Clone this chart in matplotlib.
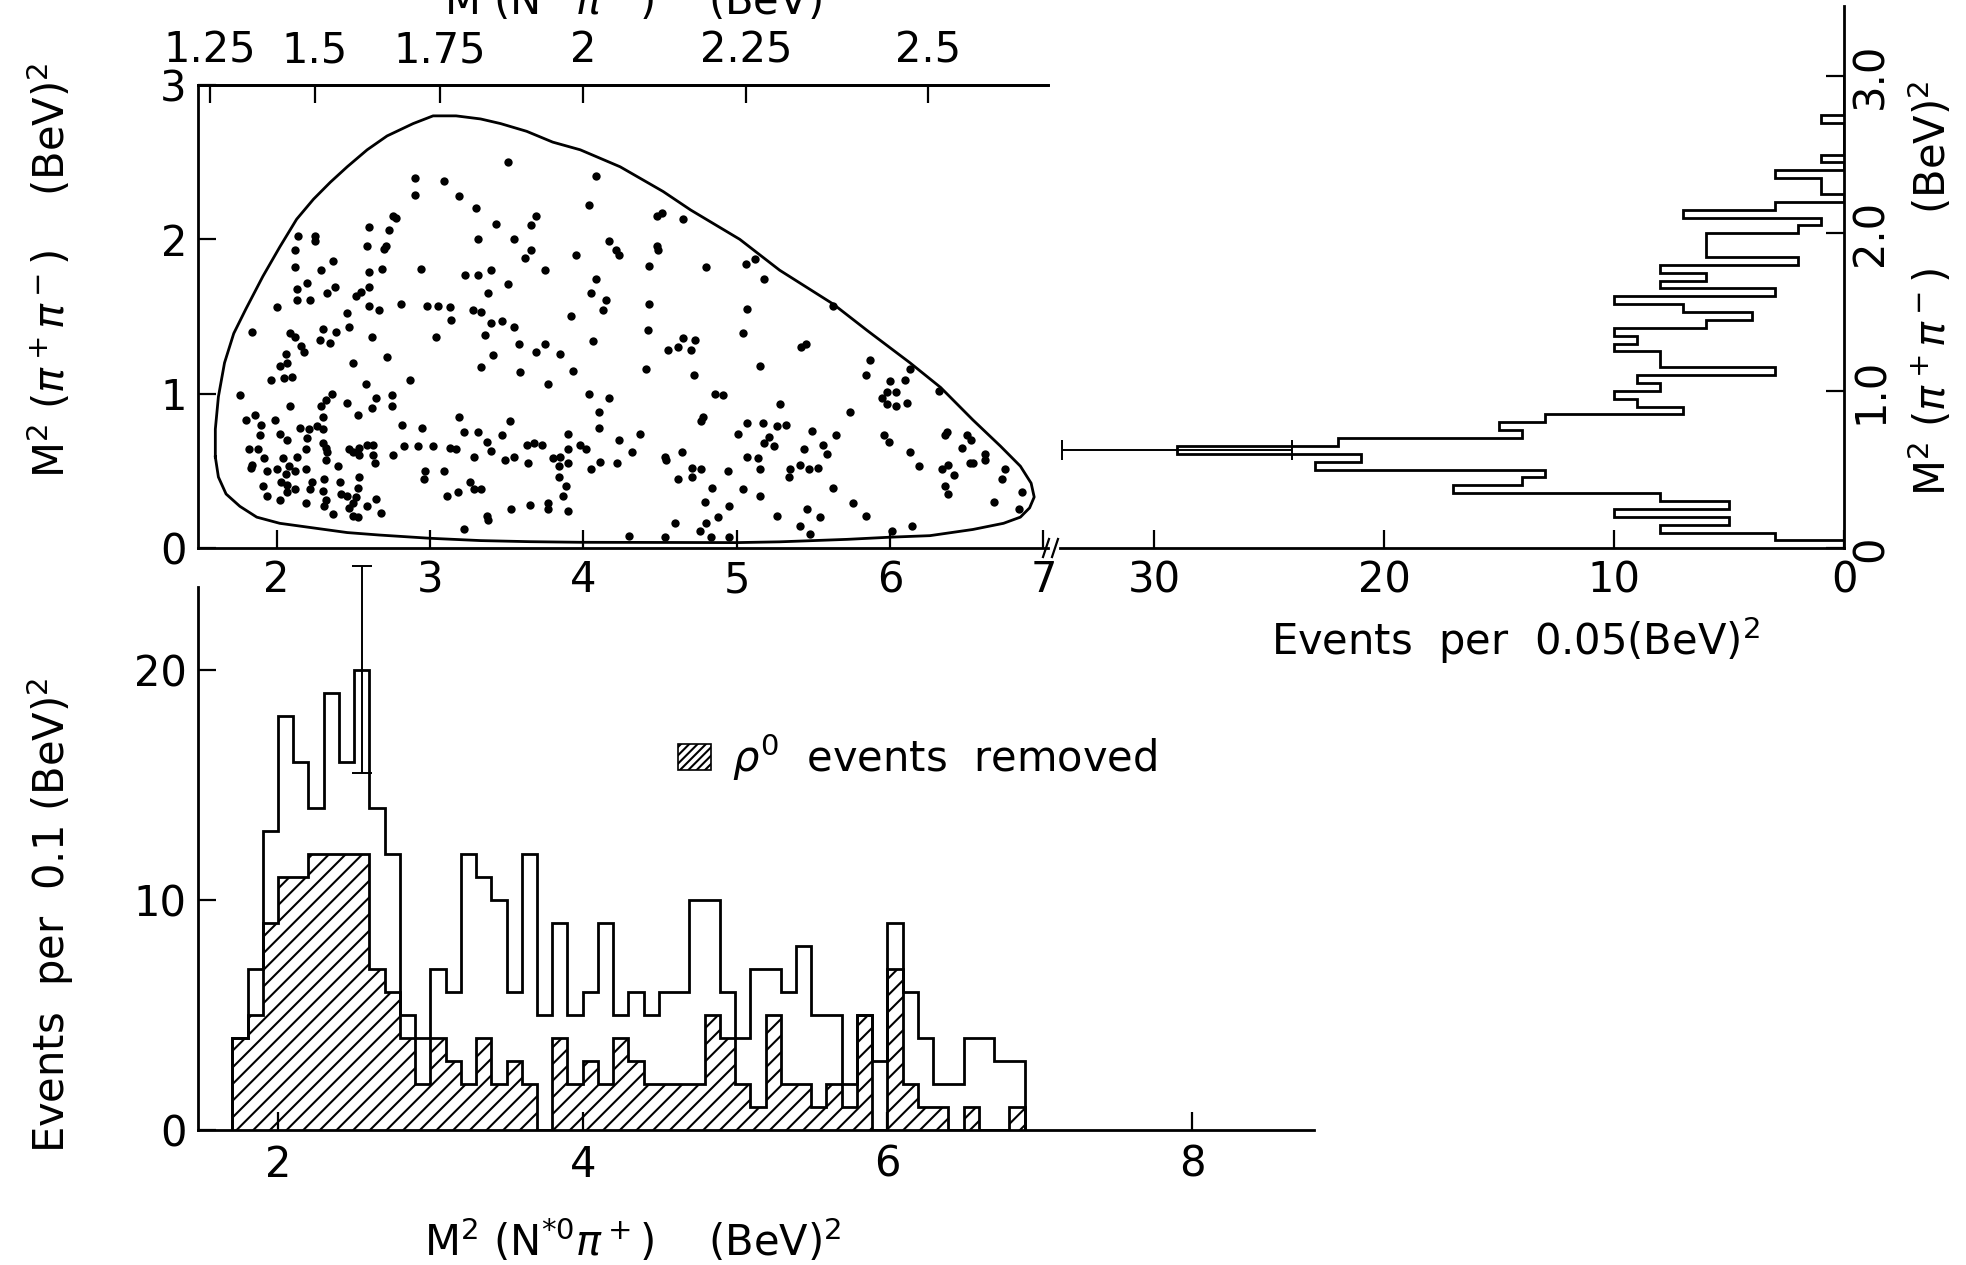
import numpy as np
import matplotlib
matplotlib.use("Agg")
import matplotlib.pyplot as plt
from matplotlib.patches import Patch
from matplotlib.lines import Line2D

plt.rcParams["font.family"] = "DejaVu Sans"
plt.rcParams["mathtext.fontset"] = "dejavusans"
plt.rcParams["hatch.linewidth"] = 1.5

# Dalitz plot events: (M^2(N*0 pi+), M^2(pi+ pi-)), (BeV)^2
dalitz_events = [
    # upper part, M^2(pi pi) > 1.4
    (3.51, 2.50), (4.08, 2.41), (2.90, 2.40), (2.90, 2.29), (3.09, 2.38), (3.19, 2.28), (3.30, 2.20),
    (4.04, 2.22), (3.43, 2.10), (3.69, 2.15), (3.66, 2.09), (2.76, 2.15), (2.78, 2.14), (2.60, 2.08),
    (2.73, 2.06), (2.14, 2.02), (2.25, 2.02), (2.25, 1.99), (2.59, 1.96), (2.70, 1.94), (2.71, 1.96),
    (3.31, 2.00), (3.55, 2.00), (4.17, 1.99), (4.21, 1.93), (4.23, 1.90), (3.66, 1.93), (3.62, 1.88),
    (3.95, 1.90), (2.12, 1.93), (2.12, 1.82), (2.29, 1.80), (2.37, 1.86), (2.60, 1.79), (2.69, 1.81),
    (2.94, 1.81), (3.23, 1.77), (3.31, 1.77), (3.40, 1.80), (3.75, 1.80), (4.08, 1.74), (2.13, 1.68),
    (2.20, 1.72), (2.38, 1.69), (2.33, 1.65), (2.13, 1.61), (2.22, 1.61), (2.55, 1.66), (2.52, 1.63),
    (2.60, 1.69), (2.60, 1.57), (2.67, 1.54), (2.81, 1.58), (2.98, 1.57), (3.05, 1.57), (3.13, 1.56),
    (3.28, 1.54), (3.33, 1.53), (3.38, 1.65), (3.51, 1.71), (4.05, 1.65), (4.15, 1.61), (4.13, 1.54),
    (2.00, 1.56), (2.30, 1.42), (2.47, 1.43), (2.46, 1.52), (3.14, 1.48), (3.40, 1.46), (3.47, 1.47),
    (3.55, 1.43), (3.92, 1.50),
    # lower left part
    (1.84, 1.40), (2.09, 1.39), (2.12, 1.37), (2.16, 1.31), (2.18, 1.27), (2.28, 1.35), (2.35, 1.33),
    (2.39, 1.40), (2.62, 1.37), (3.04, 1.37), (3.36, 1.38), (3.58, 1.32), (3.69, 1.27), (3.75, 1.32),
    (3.85, 1.26), (4.06, 1.34), (2.06, 1.26), (2.02, 1.18), (2.07, 1.20), (2.05, 1.10), (2.10, 1.11),
    (1.96, 1.09), (2.50, 1.20), (2.72, 1.24), (3.33, 1.17), (3.41, 1.25), (3.59, 1.14), (3.77, 1.06),
    (3.93, 1.15), (2.58, 1.06), (2.87, 1.09), (1.76, 0.99), (2.09, 0.92), (2.32, 0.96), (2.36, 1.00),
    (2.29, 0.92), (2.46, 0.94), (2.53, 0.86), (2.65, 0.97), (2.62, 0.91), (2.75, 0.99), (2.75, 0.92),
    (4.04, 1.00), (4.17, 0.97), (4.10, 0.88), (4.10, 0.78), (4.23, 0.70), (1.80, 0.83), (1.86, 0.86),
    (1.90, 0.80), (1.89, 0.73), (1.99, 0.83), (2.02, 0.74), (2.07, 0.70), (2.15, 0.78), (2.20, 0.71),
    (2.21, 0.77), (2.26, 0.79), (2.30, 0.77), (2.30, 0.85), (2.19, 0.64), (2.30, 0.68), (2.32, 0.65),
    (2.33, 0.62), (2.32, 0.57), (2.40, 0.53), (2.31, 0.45), (2.41, 0.43), (2.42, 0.35), (2.46, 0.34),
    (2.50, 0.29), (2.47, 0.26), (2.50, 0.21), (2.53, 0.20), (2.53, 0.39), (2.54, 0.46), (2.52, 0.33),
    (2.59, 0.27), (2.65, 0.32), (2.68, 0.23), (2.37, 0.22), (2.31, 0.27), (2.32, 0.31), (2.30, 0.37),
    (2.23, 0.43), (2.22, 0.38), (2.19, 0.29), (2.12, 0.38), (2.07, 0.36), (2.07, 0.41), (2.03, 0.43),
    (2.02, 0.31), (1.94, 0.34), (1.91, 0.40), (1.94, 0.50), (2.00, 0.51), (2.04, 0.58), (2.06, 0.48),
    (2.08, 0.53), (2.12, 0.50), (2.13, 0.59), (2.19, 0.51), (1.82, 0.64), (1.88, 0.64), (1.92, 0.58),
    (1.83, 0.52), (1.84, 0.54), (2.50, 0.62), (2.54, 0.65), (2.59, 0.67), (2.63, 0.67), (2.54, 0.60),
    (2.63, 0.60), (2.64, 0.55), (2.47, 0.64), (2.76, 0.60), (2.83, 0.66), (2.92, 0.66), (3.02, 0.66),
    (3.13, 0.65), (3.17, 0.64), (3.19, 0.85), (3.22, 0.75), (3.31, 0.75), (3.29, 0.59), (3.37, 0.69),
    (3.40, 0.63), (3.47, 0.73), (3.52, 0.82), (3.49, 0.57), (3.55, 0.59), (3.63, 0.67), (3.68, 0.68),
    (3.73, 0.67), (3.64, 0.55), (3.80, 0.58), (3.84, 0.53), (3.85, 0.59), (3.90, 0.74), (3.90, 0.64),
    (3.90, 0.55), (3.98, 0.67), (4.02, 0.64), (4.05, 0.51), (4.11, 0.56), (4.22, 0.55), (2.82, 0.80),
    (2.95, 0.78), (2.97, 0.50), (2.96, 0.45), (3.09, 0.50), (3.26, 0.43), (3.29, 0.38), (3.33, 0.38),
    (3.18, 0.36), (3.11, 0.34), (3.22, 0.12), (3.37, 0.21), (3.38, 0.18), (3.53, 0.25), (3.65, 0.28),
    (3.77, 0.29), (3.77, 0.25), (3.84, 0.46), (3.89, 0.40), (3.87, 0.34), (3.90, 0.24),
    # right part, M^2(N* pi) > 4.3
    (4.48, 2.15), (4.51, 2.17), (4.65, 2.13), (4.48, 1.96), (4.49, 1.93), (4.43, 1.83), (4.80, 1.82),
    (5.06, 1.84), (5.12, 1.87), (5.18, 1.74), (4.43, 1.58), (4.42, 1.41), (5.07, 1.55), (5.04, 1.39),
    (5.63, 1.57), (5.42, 1.30), (5.45, 1.32), (4.65, 1.36), (4.73, 1.35), (4.62, 1.30), (4.55, 1.28),
    (4.70, 1.28), (4.41, 1.16), (4.72, 1.12), (5.15, 1.18), (5.87, 1.22), (5.84, 1.12), (6.13, 1.16),
    (6.10, 1.09), (6.00, 1.08), (6.04, 1.01), (5.98, 1.01), (5.95, 0.97), (5.98, 0.93), (6.04, 0.92),
    (6.11, 0.94), (6.32, 1.02), (4.86, 1.00), (4.91, 0.99), (5.28, 0.93), (5.74, 0.88), (4.78, 0.85),
    (4.77, 0.82), (5.07, 0.81), (5.17, 0.81), (5.26, 0.79), (5.32, 0.80), (5.01, 0.74), (5.49, 0.76),
    (5.65, 0.73), (5.21, 0.72), (5.18, 0.68), (5.24, 0.66), (5.96, 0.73), (5.99, 0.69), (5.56, 0.67),
    (5.59, 0.61), (5.44, 0.64), (6.37, 0.75), (6.36, 0.73), (6.50, 0.73), (6.53, 0.70), (6.47, 0.65),
    (6.62, 0.61), (6.62, 0.57), (6.52, 0.55), (6.54, 0.55), (6.75, 0.51), (6.73, 0.45), (6.86, 0.36),
    (6.84, 0.25), (6.68, 0.30), (6.13, 0.62), (6.19, 0.53), (6.34, 0.51), (6.38, 0.54), (6.42, 0.47),
    (6.36, 0.40), (6.38, 0.35), (5.63, 0.39), (5.76, 0.29), (5.84, 0.21), (5.47, 0.51), (5.53, 0.52),
    (5.41, 0.54), (5.35, 0.51), (5.34, 0.46), (5.15, 0.51), (5.15, 0.34), (5.14, 0.58), (5.07, 0.59),
    (5.04, 0.38), (4.94, 0.50), (4.95, 0.27), (4.88, 0.20), (4.79, 0.30), (4.80, 0.16), (4.76, 0.11),
    (4.83, 0.07), (4.84, 0.39), (4.77, 0.51), (4.71, 0.52), (4.71, 0.46), (4.64, 0.62), (4.62, 0.45),
    (4.53, 0.59), (4.54, 0.57), (4.37, 0.74), (4.32, 0.62), (4.60, 0.16), (4.53, 0.07), (4.30, 0.08),
    (5.26, 0.21), (5.41, 0.14), (5.46, 0.25), (5.54, 0.20), (5.48, 0.09), (6.01, 0.11), (6.14, 0.14),
    (4.95, 0.07),
]

# kinematic boundary
boundary_m2_npi = [1.60, 1.60, 1.62, 1.66, 1.72, 1.80, 1.91, 2.02, 2.13, 2.24, 2.35, 2.46, 2.59,
                   2.72, 2.89, 3.02, 3.17, 3.33, 3.46, 3.63, 3.80, 3.98, 4.24, 4.52, 4.70, 5.02,
                   5.28, 5.63, 5.85, 6.13, 6.33, 6.54, 6.72, 6.85, 6.92, 6.94, 6.91, 6.85, 6.74,
                   6.54, 6.26, 6.00, 5.72, 5.50, 5.28, 5.00, 4.50, 3.98, 3.65, 3.33, 3.00, 2.67,
                   2.46, 2.24, 2.02, 1.87, 1.76, 1.67, 1.62, 1.60]
boundary_m2_pipi = [0.59, 0.77, 0.98, 1.20, 1.39, 1.55, 1.76, 1.95, 2.13, 2.26, 2.37, 2.47, 2.58,
                    2.67, 2.75, 2.80, 2.80, 2.78, 2.75, 2.70, 2.63, 2.58, 2.47, 2.31, 2.19, 2.00,
                    1.80, 1.58, 1.41, 1.20, 1.04, 0.83, 0.66, 0.53, 0.42, 0.33, 0.26, 0.20, 0.16,
                    0.12, 0.08, 0.07, 0.056, 0.048, 0.04, 0.035, 0.036, 0.037, 0.041, 0.048, 0.063,
                    0.084, 0.10, 0.13, 0.16, 0.20, 0.27, 0.35, 0.46, 0.59]

# M^2(pi+ pi-) projection, 0.05 (BeV)^2 bins from 0.05 to 3.00
pipi_edges = np.round(np.arange(0.05, 3.0001, 0.05), 2)
pipi_counts = [3, 8, 5, 10, 5, 8, 17, 14, 13, 23, 21, 29, 22, 14, 15, 13, 7, 9, 10, 8,
               9, 3, 8, 8, 10, 9, 10, 6, 4, 7, 10, 3, 8, 6, 8, 2, 6, 6, 6, 2,
               1, 7, 3, 0, 1, 1, 3, 0, 1, 0, 0, 0, 0, 1, 0, 0, 0, 0, 0]
pipi_peak = 0.625
pipi_peak_err = 5

# M^2(N*0 pi+) projection, 0.1 (BeV)^2 bins from 1.7 to 6.9
npi_edges = np.round(np.arange(1.7, 6.9001, 0.1), 2)
npi_all = [4, 7, 13, 18, 16, 14, 19, 16, 20, 14, 12, 5, 4, 7, 6, 12, 11, 10, 6, 12,
           5, 9, 5, 6, 9, 5, 6, 5, 6, 6, 10, 10, 6, 4, 7, 7, 6, 8, 5, 5,
           2, 5, 3, 9, 6, 4, 2, 2, 4, 4, 3, 3]
npi_no_rho = [4, 5, 9, 11, 11, 12, 12, 12, 12, 7, 6, 4, 2, 4, 3, 2, 4, 2, 3, 2,
              0, 4, 2, 3, 2, 4, 3, 2, 2, 2, 2, 5, 4, 2, 1, 5, 2, 2, 1, 2,
              1, 5, 0, 7, 2, 1, 1, 0, 1, 0, 0, 1]
npi_peak = 2.55
npi_peak_err = 4.5

LW = 2.0
FS = 30
W, H = 1966, 1265

fig = plt.figure(figsize=(19.66, 12.65), dpi=100)

# ---- Dalitz plot
ax = fig.add_axes([198 / W, 1 - 548 / H, 850 / W, 463 / H])
ax.patch.set_visible(False)
ev = np.array(dalitz_events)
ax.scatter(ev[:, 0], ev[:, 1], s=36, c="black", linewidths=0)
ax.plot(boundary_m2_npi, boundary_m2_pipi, color="black", lw=LW)
ax.set_xlim(1.487, 7.03)
ax.set_ylim(0, 3)
ax.set_xticks([2, 3, 4, 5, 6, 7])
ax.set_yticks([0, 1, 2, 3])
ax.spines["right"].set_visible(False)
for s in ax.spines.values():
    s.set_linewidth(LW)
ax.tick_params(direction="in", length=13, width=1.6, labelsize=FS, top=False, right=False)
ax.tick_params(axis="x", pad=8)
ax.tick_params(axis="y", pad=8)

top = ax.secondary_xaxis("top", functions=(lambda x: np.sqrt(np.clip(x, 0, None)), np.square))
top.set_xticks([1.25, 1.5, 1.75, 2, 2.25, 2.5])
top.set_xticklabels(["1.25", "1.5", "1.75", "2", "2.25", "2.5"])
top.tick_params(direction="in", length=13, width=1.6, labelsize=FS, pad=10)
top.spines["top"].set_linewidth(LW)

fig.text(50 / W, 1 - 270 / H, r"M$^2$ ($\pi^+\pi^-$)    (BeV)$^2$", rotation=90,
         ha="center", va="center", fontsize=FS)
# axis title above the top scale, mostly beyond the page edge as in the original
fig.text(633 / W, 1.0, r"M (N$^{*0}\pi^+$)    (BeV)", ha="center", va="center", fontsize=FS)

# ---- M^2(pi pi) projection (sideways)
ax2 = fig.add_axes([1060 / W, 1 - 548.3 / H, 784 / W, 542.3 / H])
ax2.patch.set_visible(False)
ax2.stairs(pipi_counts, pipi_edges, orientation="horizontal", color="black", lw=LW)
ax2.errorbar(max(pipi_counts), pipi_peak, xerr=pipi_peak_err,
             color="black", lw=1.4, capsize=7, capthick=1.4)
ax2.set_xlim(34.09, 0)
ax2.set_ylim(0, 3.443)
ax2.spines["left"].set_visible(False)
ax2.spines["top"].set_visible(False)
for s in ax2.spines.values():
    s.set_linewidth(LW)
ax2.yaxis.tick_right()
ax2.set_yticks([0, 1, 2, 3])
ax2.set_yticklabels(["0", "1.0", "2.0", "3.0"], rotation=90, va="center")
ax2.set_xticks([0, 10, 20, 30])
ax2.tick_params(direction="in", length=13, width=1.6, labelsize=FS)
ax2.tick_params(axis="y", pad=4)
ax2.tick_params(axis="x", pad=8)
fig.text(1515 / W, 1 - 640 / H, r"Events  per  0.05(BeV)$^2$", ha="center", va="center",
         fontsize=FS)
fig.text(1931 / W, 1 - 288 / H, r"M$^2$ ($\pi^+\pi^-$)    (BeV)$^2$", rotation=90,
         ha="center", va="center", fontsize=FS)

# axis break between the two upper panels
for xb in (1046, 1055):
    fig.add_artist(Line2D([(xb - 3) / W, (xb + 3) / W], [1 - 557 / H, 1 - 539 / H],
                          color="black", lw=1.6))

# ---- M^2(N* pi) projection
ax3 = fig.add_axes([198 / W, 1 - 1130 / H, 1116 / W, 543 / H])
ax3.patch.set_visible(False)
ax3.stairs(npi_no_rho, npi_edges, fill=True, facecolor="white", edgecolor="black",
           hatch="//", lw=LW)
ax3.stairs(npi_all, npi_edges, color="black", lw=LW)
eb = ax3.errorbar(npi_peak, max(npi_all), yerr=npi_peak_err, color="black", lw=1.4,
                  capsize=7, capthick=1.4)
for art in list(eb[1]) + list(eb[2]):
    art.set_clip_on(False)
ax3.set_xlim(1.475, 8.80)
ax3.set_ylim(0, 23.6)
ax3.set_xticks([2, 4, 6, 8])
ax3.set_yticks([0, 10, 20])
ax3.spines["right"].set_visible(False)
ax3.spines["top"].set_visible(False)
for s in ax3.spines.values():
    s.set_linewidth(LW)
ax3.tick_params(direction="in", length=13, width=1.6, labelsize=FS)
ax3.tick_params(axis="x", pad=10)
ax3.tick_params(axis="y", pad=8)
ax3.legend(handles=[Patch(facecolor="white", edgecolor="black", hatch="////", lw=1.2,
                          label=r"$\rho^0$  events  removed")],
           loc="center left", bbox_to_anchor=(0.43, 0.687), frameon=False, fontsize=FS,
           handlelength=0.8, handleheight=0.55, handletextpad=0.5, borderpad=0,
           borderaxespad=0)
fig.text(50 / W, 1 - 915 / H, r"Events  per  0.1 (BeV)$^2$", rotation=90,
         ha="center", va="center", fontsize=FS)
fig.text(633 / W, 1 - 1241 / H, r"M$^2$ (N$^{*0}\pi^+$)    (BeV)$^2$", ha="center",
         va="center", fontsize=FS)

fig.savefig("out.png", dpi=100, facecolor="white")
